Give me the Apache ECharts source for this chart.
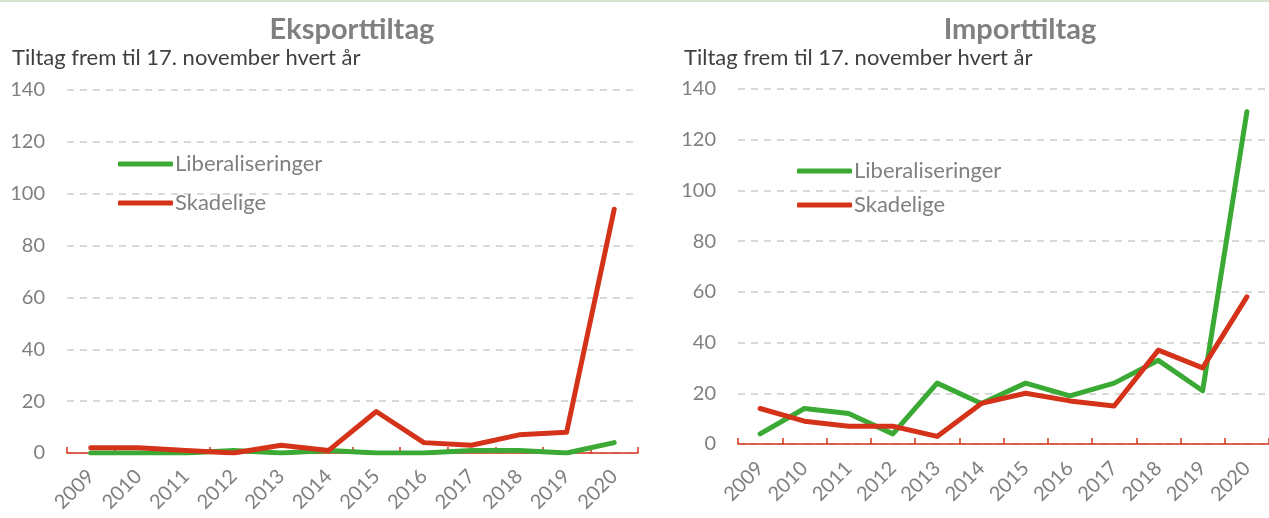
<!DOCTYPE html>
<html>
<head>
<meta charset="utf-8">
<script src="https://cdn.jsdelivr.net/npm/echarts@6/dist/echarts.min.js"></script>
<style>
html,body{margin:0;padding:0;background:#fff;}
#top{position:absolute;left:0;top:0;width:1269px;height:2px;background:#d5e3cf;}
#c{width:1269px;height:518px;}
</style>
</head>
<body>
<div id="c"></div>
<div id="top"></div>
<script>
const years = ['2009','2010','2011','2012','2013','2014','2015','2016','2017','2018','2019','2020'];
const yTicks = [0,20,40,60,80,100,120,140];
const eksportLiberaliseringer = [0,0,0,1,0,1,0,0,1,1,0,4];
const eksportSkadelige = [2,2,1,0,3,1,16,4,3,7,8,94];
const importLiberaliseringer = [4,14,12,4,24,16,24,19,24,33,21,131];
const importSkadelige = [14,9,7,7,3,16,20,17,15,37,30,58];
const titles = ['Eksporttiltag','Importtiltag'];
const subtitle = 'Tiltag frem til 17. november hvert år';
const seriesNames = ['Liberaliseringer','Skadelige'];

const FONT = 'Lato, "Open Sans", sans-serif';
const GREEN = '#3aaa35', RED = '#d5321a', GREY = '#808080';

function xAxis(idx, margin){
  return {
    type:'category', gridIndex:idx, data:years, boundaryGap:true,
    axisLine:{show:true, lineStyle:{color:RED, width:1.5}},
    axisTick:{show:true, inside:true, length:6, lineStyle:{color:RED, width:1.5}},
    axisLabel:{rotate:45, color:GREY, fontSize:20, fontFamily:FONT, margin:margin}
  };
}
function yAxis(idx){
  return {
    type:'value', gridIndex:idx, min:yTicks[0], max:yTicks[yTicks.length-1], interval:20,
    axisLine:{show:false}, axisTick:{show:false},
    axisLabel:{color:GREY, fontSize:20, fontFamily:FONT, margin:22},
    splitLine:{show:true, lineStyle:{color:'#d9d9d9', width:2, type:[7,6]}}
  };
}
function line(name, data, idx, color){
  return {
    name:name, type:'line', xAxisIndex:idx, yAxisIndex:idx, data:data,
    symbol:'none', smooth:false, color:color,
    lineStyle:{width:5, color:color, cap:'round', join:'round'},
    z: name==='Skadelige'?3:2
  };
}
const legendBase = {
  orient:'vertical', icon:'roundRect', itemWidth:55, itemHeight:5, padding:0,
  textStyle:{color:GREY, fontSize:22, fontFamily:FONT, lineHeight:22, padding:[0,0,0,-3]},
  data:seriesNames, selectedMode:false
};
const chart = echarts.init(document.getElementById('c'), null, {renderer:'canvas'});
chart.setOption({
  backgroundColor:'#fff',
  animation:false,
  title:[
    {text:titles[0], left:352, top:15, padding:0, textAlign:'center', textStyle:{color:GREY, fontSize:29, fontWeight:'bold', fontFamily:FONT}},
    {text:titles[1], left:1020, top:15, padding:0, textAlign:'center', textStyle:{color:GREY, fontSize:29, fontWeight:'bold', fontFamily:FONT}},
    {text:subtitle, left:12, top:47, padding:0, textStyle:{color:'#404040', fontSize:22, fontWeight:'normal', fontFamily:FONT}},
    {text:subtitle, left:684, top:47, padding:0, textStyle:{color:'#404040', fontSize:22, fontWeight:'normal', fontFamily:FONT}}
  ],
  legend:[
    Object.assign({}, legendBase, {left:118, top:153, itemGap:17}),
    Object.assign({}, legendBase, {left:797, top:160, itemGap:12})
  ],
  grid:[
    {left:67, right:631, top:90, bottom:65, containLabel:false},
    {left:738, right:-9, top:89, bottom:74, containLabel:false}
  ],
  xAxis:[xAxis(0, 20), xAxis(1, 21)],
  yAxis:[yAxis(0), yAxis(1)],
  series:[
    line(seriesNames[0], eksportLiberaliseringer, 0, GREEN),
    line(seriesNames[1], eksportSkadelige, 0, RED),
    line(seriesNames[0], importLiberaliseringer, 1, GREEN),
    line(seriesNames[1], importSkadelige, 1, RED)
  ]
});
</script>
</body>
</html>
